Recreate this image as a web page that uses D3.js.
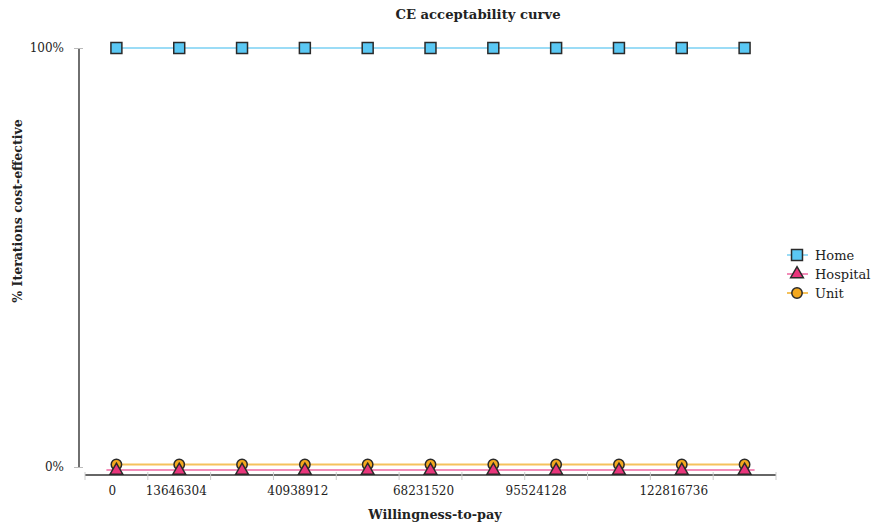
<!DOCTYPE html>
<html><head><meta charset="utf-8">
<script src="https://cdn.jsdelivr.net/npm/d3@7"></script>
<style>body{margin:0;background:#fff}svg{display:block}</style>
</head><body>
<script>
const categories = [0, 13646304, 27292608, 40938912, 54585216, 68231520, 81877824, 95524128, 109170432, 122816736, 136463040];
const tickLabels = ["0", "13646304", "40938912", "68231520", "95524128", "122816736"];
const home = [1, 1, 1, 1, 1, 1, 1, 1, 1, 1, 1];
const hospital = [0, 0, 0, 0, 0, 0, 0, 0, 0, 0, 0];
const unit = [0, 0, 0, 0, 0, 0, 0, 0, 0, 0, 0];
const yTicks = [0, 1];

const W = 873, H = 526;
const font = "'DejaVu Serif', serif";
const svg = d3.select("body").append("svg").attr("width", W).attr("height", H);

const x = d3.scaleBand().domain(categories).range([85, 776]);
const y = d3.scaleLinear().domain([0, 1]).range([467, 48]);
const cx = d => x(d) + x.bandwidth() / 2;

// title
svg.append("text").attr("x", 478).attr("y", 19).attr("text-anchor", "middle")
  .attr("font-family", font).attr("font-weight", "bold").attr("font-size", 13.2).attr("fill", "#222")
  .text("CE acceptability curve");

// y axis
const yAxis = d3.axisLeft(y).tickValues(yTicks).tickFormat(d3.format(".0%")).tickSize(5).tickPadding(10);
const ya = svg.append("g").attr("transform", "translate(79,0)").call(yAxis);
ya.select(".domain").attr("stroke", "#222").attr("stroke-width", 1.3).attr("d", "M0," + y(1) + "V" + y(0));
ya.selectAll(".tick line").attr("stroke", "#bbb").attr("x2", 4).attr("x1", -5);
ya.selectAll(".tick text").attr("font-family", font).attr("font-size", 12).attr("fill", "#222");

// x axis
const xa = svg.append("g").attr("transform", "translate(0,475)");
xa.append("line").attr("x1", x.range()[0]).attr("x2", x.range()[1]).attr("stroke", "#666").attr("stroke-width", 2);
const edges = categories.map(d => x(d)).concat([x.range()[1]]);
xa.selectAll("line.tk").data(edges).join("line").attr("class", "tk")
  .attr("x1", d => d).attr("x2", d => d).attr("y1", -3).attr("y2", 5).attr("stroke", "#ccc");
const labelCats = [0, 1, 3, 5, 7, 9];
const labelShift = [-4, -3, -7, -7, -20, -8];
xa.selectAll("text.tl").data(tickLabels).join("text").attr("class", "tl")
  .attr("x", (d, i) => cx(categories[labelCats[i]]) + labelShift[i]).attr("y", 20).attr("text-anchor", "middle")
  .attr("font-family", font).attr("font-size", 12).attr("fill", "#222").text(d => d);

// axis titles
svg.append("text").attr("x", 435).attr("y", 519).attr("text-anchor", "middle")
  .attr("font-family", font).attr("font-weight", "bold").attr("font-size", 12.8).attr("fill", "#222")
  .text("Willingness-to-pay");
svg.append("text").attr("transform", "translate(22,211) rotate(-90)").attr("text-anchor", "middle")
  .attr("font-family", font).attr("font-weight", "bold").attr("font-size", 12.5).attr("fill", "#222")
  .text("% Iterations cost-effective");

// series
const series = [
  {name: "Home", values: home, line: "#9bdcf6", fill: "#5ac8f4", shape: d3.symbolSquare, size: 120, dy: 0, ext: 0},
  {name: "Unit", values: unit, line: "#f5c25c", fill: "#f4a81d", shape: d3.symbolCircle, size: 85, dy: -2.5, ext: 0},
  {name: "Hospital", values: hospital, line: "#f28cb8", fill: "#e8357b", shape: d3.symbolTriangle, size: 70, dy: 3, ext: 10}
];
const line = d3.line();
series.forEach(s => {
  const pts = s.values.map((v, i) => [cx(categories[i]), y(v) + s.dy]);
  const lp = pts.slice();
  if (s.ext) { lp.unshift([pts[0][0] - s.ext, pts[0][1]]); lp.push([pts[pts.length - 1][0] + s.ext, pts[0][1]]); }
  svg.append("path").attr("d", line(lp)).attr("fill", "none").attr("stroke", s.line).attr("stroke-width", 2);
});
series.forEach(s => {
  svg.append("g").selectAll("path").data(s.values).join("path")
    .attr("transform", (v, i) => `translate(${cx(categories[i])},${y(v) + s.dy + (s.shape === d3.symbolTriangle ? 0.5 : 0)})`)
    .attr("d", d3.symbol().type(s.shape).size(s.size))
    .attr("fill", s.fill).attr("stroke", "#2a2a2a").attr("stroke-width", 1.5);
});

// legend
const legendOrder = ["Home", "Hospital", "Unit"];
legendOrder.forEach((n, i) => {
  const s = series.find(d => d.name === n);
  const g = svg.append("g").attr("transform", `translate(797,${255 + i * 19})`);
  g.append("line").attr("x1", -10).attr("x2", 11).attr("stroke", s.line).attr("stroke-width", 2);
  g.append("path").attr("d", d3.symbol().type(s.shape).size(s.size)).attr("fill", s.fill).attr("stroke", "#2a2a2a").attr("stroke-width", 1.5);
  g.append("text").attr("x", 18).attr("y", 5).attr("font-family", font).attr("font-size", 13).attr("fill", "#222").text(n);
});
</script>
</body></html>
